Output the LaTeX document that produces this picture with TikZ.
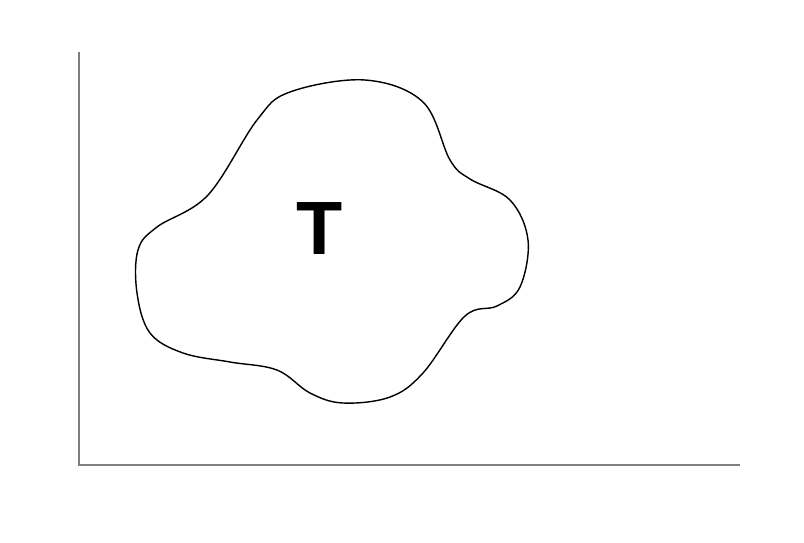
\documentclass[tikz,border=0pt]{standalone}
\usepackage{fontspec}
\setmainfont{Liberation Sans}
\usetikzlibrary{positioning}
\definecolor{axisgray}{HTML}{7F7F7F}

\begin{document}
\begin{tikzpicture}[
    axis/.style={
        draw=axisgray, line width=1.1pt,
    },
    region/.style={
        draw=black, line width=0.8pt, line join=round,
    },
    label/.style={
        font=\fontsize{43}{43}\selectfont\bfseries, inner sep=0pt,
    },
]

% Page frame
\useasboundingbox (0, 0) rectangle (16.08, 10.84);

% Axes
\coordinate (ytop) at (1.58, 9.80);
\coordinate (origin) at (1.58, 1.54);
\coordinate (xend) at (14.80, 1.54);
\draw[axis] (ytop) -- (origin) -- (xend);

% Region
\draw[region] plot[smooth cycle, tension=0.6] coordinates {
    (7.30, 9.24) (8.46, 8.80) (9.00, 7.64) (9.40, 7.26) (10.20, 6.84)
    (10.56, 6.04) (10.40, 5.10) (9.94, 4.72) (9.30, 4.52) (8.46, 3.38)
    (7.80, 2.90) (6.86, 2.78) (6.20, 2.98) (5.54, 3.44) (4.60, 3.60)
    (3.66, 3.78) (3.00, 4.18) (2.74, 4.98) (2.76, 5.84) (3.14, 6.30)
    (4.16, 6.94) (5.14, 8.44) (5.80, 9.00)
};

% Label
\node[label] (tlabel) at (6.40, 6.26) {T};

\end{tikzpicture}
\end{document}
